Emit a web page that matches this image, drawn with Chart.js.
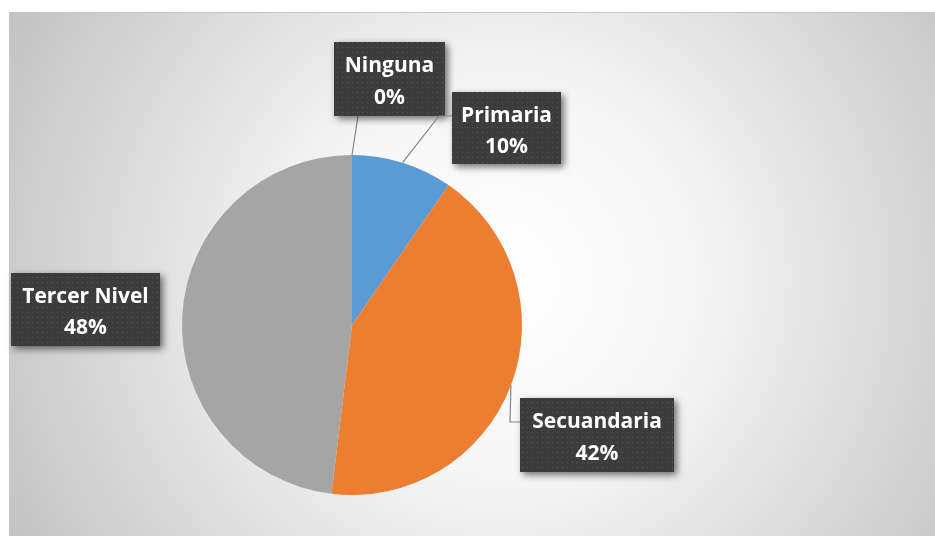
<!DOCTYPE html>
<html><head><meta charset="utf-8">
<script src="https://cdn.jsdelivr.net/npm/chart.js@4"></script>
<style>html,body{margin:0;padding:0;background:#fff;}#wrap{width:935px;height:536px;position:relative;}</style>
</head><body><div id="wrap"><canvas id="c" width="935" height="536"></canvas></div>
<script>
const categories = ["Ninguna", "Primaria", "Secuandaria", "Tercer Nivel"];
const counts = [0, 5, 22, 25];
const colors = ["#FFC000", "#5B9BD5", "#ED7D31", "#A5A5A5"];

// label layout: box rect (x,y,w,h) and leader elbow path
const labelLayout = [
  {box:[334,42,111,74], path:[[358,116]]},
  {box:[452,92,109,72], path:[[439,116],[452,116]]},
  {box:[520,398,154,74], path:[[510,422],[520,422]]},
  {box:[11,273,149,73], path:null}
];

function makePattern(ctx){
  const p = document.createElement('canvas'); p.width = 5; p.height = 5;
  const c = p.getContext('2d');
  c.fillStyle = '#3c3c3c'; c.fillRect(0,0,5,5);
  c.fillStyle = '#585858'; c.fillRect(2,2,1,1);
  return ctx.createPattern(p,'repeat');
}

const bgPlugin = {
  id:'bg',
  beforeDraw(chart){
    const ctx = chart.ctx;
    ctx.save();
    ctx.fillStyle = '#fff'; ctx.fillRect(0,0,935,536);
    const g = ctx.createRadialGradient(500,280,0,500,280,560);
    g.addColorStop(0,'#ffffff');
    g.addColorStop(0.35,'#f6f6f6');
    g.addColorStop(1,'#c2c2c2');
    ctx.fillStyle = g; ctx.fillRect(9,12,926,524);
    ctx.strokeStyle = '#c6c6c6'; ctx.lineWidth = 1;
    ctx.beginPath(); ctx.moveTo(9.5,536); ctx.lineTo(9.5,12.5); ctx.lineTo(935,12.5); ctx.stroke();
    ctx.restore();
  }
};

const labelPlugin = {
  id:'lbls',
  afterDatasetsDraw(chart){
    const ctx = chart.ctx;
    const meta = chart.getDatasetMeta(0);
    const total = counts.reduce((a,b)=>a+b,0);
    const pat = makePattern(ctx);
    meta.data.forEach((arc,i)=>{
      const L = labelLayout[i];
      const p = arc.getProps(['x','y','startAngle','endAngle','outerRadius'], true);
      const mid = (p.startAngle + p.endAngle)/2;
      const ax = p.x + Math.cos(mid)*p.outerRadius;
      const ay = p.y + Math.sin(mid)*p.outerRadius;
      if (L.path){
        ctx.save();
        ctx.strokeStyle = '#858585'; ctx.lineWidth = 1.2;
        ctx.beginPath(); ctx.moveTo(ax,ay);
        L.path.forEach(pt=>ctx.lineTo(pt[0],pt[1]));
        ctx.stroke(); ctx.restore();
      }
      const [bx,by,bw,bh] = L.box;
      ctx.save();
      ctx.shadowColor = 'rgba(0,0,0,0.55)'; ctx.shadowBlur = 7; ctx.shadowOffsetX = 3; ctx.shadowOffsetY = 3;
      ctx.fillStyle = '#3c3c3c'; ctx.fillRect(bx,by,bw,bh);
      ctx.restore();
      ctx.save();
      ctx.fillStyle = pat; ctx.fillRect(bx,by,bw,bh);
      ctx.fillStyle = '#ffffff';
      ctx.font = 'bold 21px "Open Sans", Lato, sans-serif';
      ctx.textAlign = 'center'; ctx.textBaseline = 'middle';
      const cx = bx + bw/2;
      const pct = Math.round(counts[i]/total*100) + '%';
      ctx.fillText(categories[i], cx, by + bh*0.30 + 2);
      ctx.fillText(pct, cx, by + bh*0.73 + 2);
      ctx.restore();
    });
  }
};

new Chart(document.getElementById('c'), {
  type:'pie',
  data:{ labels:categories, datasets:[{ data:counts, backgroundColor:colors, borderWidth:0 }]},
  options:{
    responsive:false, animation:false,
    layout:{ padding:{left:182, right:413, top:155, bottom:41} },
    plugins:{ legend:{display:false}, tooltip:{enabled:false} }
  },
  plugins:[bgPlugin, labelPlugin]
});
</script></body></html>
